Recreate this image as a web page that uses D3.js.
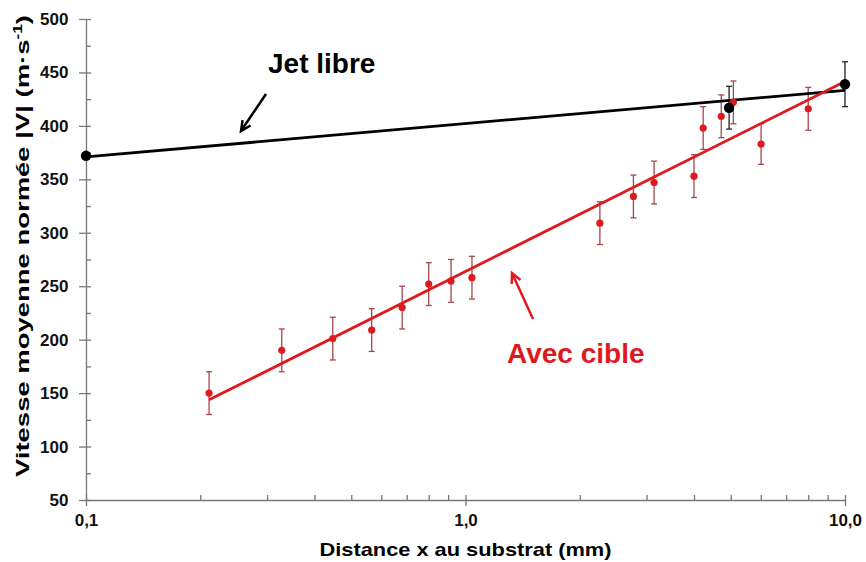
<!DOCTYPE html>
<html>
<head>
<meta charset="utf-8">
<script src="https://cdn.jsdelivr.net/npm/d3@7"></script>
<style>
  body { margin: 0; background: #fff; }
  text { font-family: "Liberation Sans", Arial, sans-serif; }
</style>
</head>
<body>
<svg id="chart"></svg>
<script>
// size
const width = 866;
const height = 562;

// data: free jet
const jetX = [0.1, 4.95, 10];
const jetY = [372, 417, 439];
const jetErr = [0, 20, 21];

// data: with target
const cibleX = [0.211, 0.328, 0.447, 0.566, 0.681, 0.80, 0.916, 1.04, 2.26, 2.77, 3.14, 4.0, 4.23, 4.72, 5.08, 6.01, 8.0, 10];
const cibleY = [150, 190, 201, 209, 230, 252, 255, 258, 309, 334, 347, 353, 398, 409, 422, 383, 416, 440];
const cibleErr = [20, 20, 20, 20, 20, 20, 20, 20, 20, 20, 20, 20, 20, 20, 20, 19, 20, 0];

// axes
const xMajor = [0.1, 1, 10];
const xMinor = [0.2, 0.3, 0.4, 0.5, 0.6, 0.7, 0.8, 0.9, 2, 3, 4, 5, 6, 7, 8, 9];
const yMajor = [50, 100, 150, 200, 250, 300, 350, 400, 450, 500];
const yMinor = [75, 125, 175, 225, 275, 325, 375, 425, 475];

const red = "#de1a1f";
const errRed = "#a8454c";

const svg = d3.select("#chart")
    .attr("width", width)
    .attr("height", height);

const x = d3.scaleLog().domain([0.1, 10]).range([86, 845]);
const y = d3.scaleLinear().domain([50, 500]).range([500, 19]);

// french decimal comma
const fr = d3.formatLocale({ decimal: ",", thousands: " ", grouping: [3], currency: ["", " €"] });
const fmt = fr.format(".1f");

// least squares in log10(x)
function fit(xs, ys) {
    const lx = xs.map(Math.log10);
    const mx = d3.mean(lx), my = d3.mean(ys);
    const sxy = d3.sum(lx, (v, i) => (v - mx) * (ys[i] - my));
    const sxx = d3.sum(lx, v => (v - mx) * (v - mx));
    const b = sxy / sxx;
    return v => my + b * (Math.log10(v) - mx);
}

// x axis
const gx = svg.append("g").attr("transform", `translate(0,${y(50)})`);
gx.call(d3.axisBottom(x).tickValues(xMajor).tickFormat(fmt).tickSize(6).tickSizeOuter(0));
gx.append("g").call(d3.axisTop(x).tickValues(xMajor.concat(xMinor)).tickFormat("").tickSize(5).tickSizeOuter(0))
    .select(".domain").remove();
gx.selectAll("line, path").attr("stroke", "#777").attr("stroke-width", 1.3);
gx.selectAll("text").attr("font-size", 17).attr("font-weight", "bold").attr("fill", "#111").attr("dy", "1.0em");

// y axis
const gy = svg.append("g").attr("transform", `translate(${x(0.1)},0)`);
gy.call(d3.axisLeft(y).tickValues(yMajor).tickSize(7).tickSizeOuter(0));
gy.append("g").call(d3.axisRight(y).tickValues(yMajor.concat(yMinor)).tickFormat("").tickSize(5).tickSizeOuter(0))
    .select(".domain").remove();
gy.selectAll("line, path").attr("stroke", "#777").attr("stroke-width", 1.3);
gy.selectAll("text").attr("font-size", 17).attr("font-weight", "bold").attr("fill", "#111").attr("dx", "-0.45em");

// axis titles
svg.append("text")
    .attr("x", x(1)).attr("y", 556)
    .attr("text-anchor", "middle")
    .attr("font-size", 19).attr("font-weight", "bold")
    .attr("textLength", 292).attr("lengthAdjust", "spacingAndGlyphs")
    .text("Distance x au substrat (mm)");
const yt = svg.append("text")
    .attr("transform", `translate(29, 246) rotate(-90)`)
    .attr("text-anchor", "middle")
    .attr("font-size", 19).attr("font-weight", "bold")
    .attr("textLength", 462).attr("lengthAdjust", "spacingAndGlyphs");
yt.append("tspan").text("Vitesse moyenne normée |V| (m·s");
yt.append("tspan").attr("baseline-shift", "super").attr("font-size", 12).text("-1");
yt.append("tspan").text(")");

// error bars
function errorBars(xs, ys, es, color) {
    const g = svg.append("g").attr("stroke", color).attr("stroke-width", 1.3);
    xs.forEach((xv, i) => {
        if (!es[i]) return;
        const cx = x(xv), y1 = y(ys[i] + es[i]), y2 = y(ys[i] - es[i]);
        g.append("line").attr("x1", cx).attr("x2", cx).attr("y1", y1).attr("y2", y2);
        g.append("line").attr("x1", cx - 3).attr("x2", cx + 3).attr("y1", y1).attr("y2", y1);
        g.append("line").attr("x1", cx - 3).attr("x2", cx + 3).attr("y1", y2).attr("y2", y2);
    });
}
errorBars(cibleX, cibleY, cibleErr, errRed);
errorBars(jetX, jetY, jetErr, "#222");

// fit lines
const fJet = fit(jetX, jetY);
const fCible = fit(cibleX, cibleY);
const line = d3.line().x(d => x(d[0])).y(d => y(d[1]));
svg.append("path")
    .attr("d", line([[0.1, fJet(0.1)], [10, fJet(10)]]))
    .attr("stroke", "#000").attr("stroke-width", 2.8).attr("fill", "none");
svg.append("path")
    .attr("d", line([[d3.min(cibleX), fCible(d3.min(cibleX))], [10, fCible(10)]]))
    .attr("stroke", red).attr("stroke-width", 2.8).attr("fill", "none");

// points
svg.append("g").selectAll("circle")
    .data(cibleX.map((v, i) => [v, cibleY[i]]))
    .enter().append("circle")
    .attr("cx", d => x(d[0])).attr("cy", d => y(d[1]))
    .attr("r", 3.6).attr("fill", red);
svg.append("g").selectAll("circle")
    .data(jetX.map((v, i) => [v, jetY[i]]))
    .enter().append("circle")
    .attr("cx", d => x(d[0])).attr("cy", d => y(d[1]))
    .attr("r", 5.2).attr("fill", "#000");

// annotations
function arrow(x1, y1, x2, y2, color) {
    const a = Math.atan2(y2 - y1, x2 - x1), L = 11, s = 0.45;
    const p = [[x2 - L * Math.cos(a - s), y2 - L * Math.sin(a - s)], [x2, y2], [x2 - L * Math.cos(a + s), y2 - L * Math.sin(a + s)]];
    svg.append("line").attr("x1", x1).attr("y1", y1).attr("x2", x2).attr("y2", y2)
        .attr("stroke", color).attr("stroke-width", 2.5);
    svg.append("path").attr("d", d3.line()(p)).attr("fill", "none")
        .attr("stroke", color).attr("stroke-width", 2.5);
}
svg.append("text").attr("x", 268).attr("y", 73)
    .attr("font-size", 28).attr("font-weight", "bold").attr("fill", "#000")
    .text("Jet libre");
arrow(266, 94, 241, 131, "#000");
svg.append("text").attr("x", 507).attr("y", 363)
    .attr("font-size", 28).attr("font-weight", "bold").attr("fill", red)
    .text("Avec cible");
arrow(533, 319, 512, 273, red);
</script>
</body>
</html>
